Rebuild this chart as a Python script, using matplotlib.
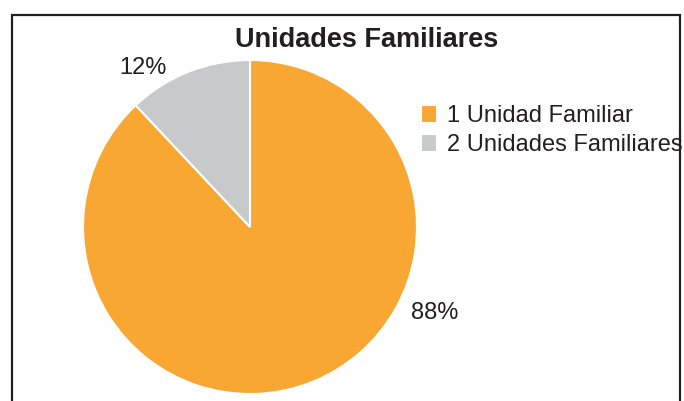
import numpy as np
import matplotlib.pyplot as plt
from matplotlib.patches import Rectangle

plt.rcParams['font.family'] = ['Liberation Sans', 'DejaVu Sans']

# Datos
categorias = ['1 Unidad Familiar', '2 Unidades Familiares']
porcentajes = [88, 12]
colores = ['#F9A733', '#C8C9CB']
etiquetas = ['88%', '12%']

fig = plt.figure(figsize=(6.84, 4.01), dpi=100)
W, H = 684, 401

# marco (el borde inferior queda fuera del recorte)
fig.patches.append(Rectangle((12 / W, -0.05), 668 / W, (1.05 - 15 / H),
                             transform=fig.transFigure, fill=False,
                             edgecolor='#231F20', linewidth=1.6))

# pie: centro (250, 227), radio 167 px
ax = fig.add_axes([83 / W, (H - 394) / H, 334 / W, 334 / H])
wedges, _ = ax.pie(porcentajes, colors=colores, startangle=90, counterclock=False,
                   wedgeprops=dict(edgecolor='white', linewidth=1.5))
ax.set_xlim(-1, 1)
ax.set_ylim(-1, 1)
ax.set_aspect('equal')
ax.axis('off')

# posiciones de las etiquetas (angulo, distancia)
pos_etiquetas = [(-25, 1.22), (124, 1.15)]
for txt, (ang, d) in zip(etiquetas, pos_etiquetas):
    a = np.deg2rad(ang)
    ax.text(d * np.cos(a), d * np.sin(a), txt, ha='center', va='center',
            fontsize=17, color='#231F20', clip_on=False)

fig.text(367 / W, 1 - 40 / H, 'Unidades Familiares', ha='center', va='center',
         fontsize=19.5, fontweight='bold', color='#231F20')

fig.legend(wedges, categorias, loc='upper left', bbox_to_anchor=(400 / W, 1 - 84 / H),
           frameon=False, fontsize=17, handlelength=0.68, handleheight=0.75,
           handletextpad=0.4, labelspacing=0.3, labelcolor='#231F20')

fig.savefig('out.png', dpi=100)
